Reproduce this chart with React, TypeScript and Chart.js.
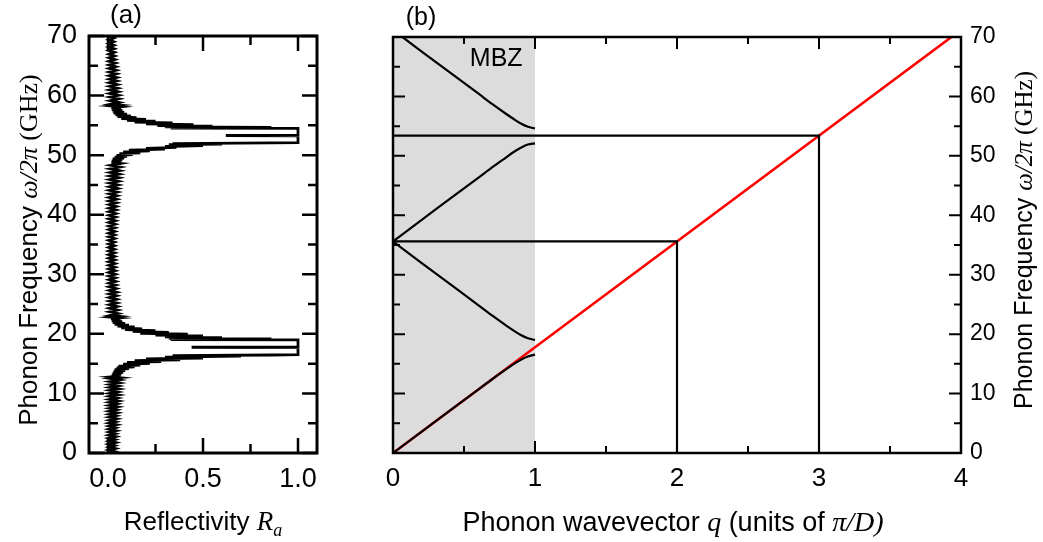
import React, { useEffect, useRef } from "react";
import { Chart, registerables } from "chart.js";
Chart.register(...registerables);

const SANS = "'Liberation Sans', Arial, Helvetica, sans-serif";
const SERIF = "'Liberation Serif', 'Times New Roman', serif";

// ---------------- Panel (a): reflectivity spectrum [frequency GHz, reflectivity]
const reflPoints: [number, number][] = [
  [0, 0.008], [0.25, 0.035], [0.5, 0.006], [0.75, 0.038], [1, 0.008], [1.25, 0.034], [1.5, 0.006], [1.75, 0.04],
  [2, 0.008], [2.25, 0.036], [2.5, 0.007], [2.75, 0.04], [3, 0.006], [3.25, 0.037], [3.5, 0.008], [3.75, 0.042],
  [4, 0.007], [4.25, 0.038], [4.5, 0.008], [4.75, 0.044], [5, 0.007], [5.25, 0.04], [5.5, 0.009], [5.75, 0.045],
  [6, 0.008], [6.25, 0.042], [6.5, 0.009], [6.75, 0.047], [7, 0.008], [7.25, 0.044], [7.5, 0.01], [7.75, 0.05],
  [8, 0.009], [8.25, 0.046], [8.5, 0.01], [8.75, 0.052], [9, 0.01], [9.25, 0.048], [9.5, 0.011], [9.75, 0.054],
  [10, 0.01], [10.25, 0.05], [10.5, 0.012], [10.75, 0.056], [11, 0.012], [11.25, 0.052], [11.5, 0.013], [11.75, 0.058],
  [12, 0.014], [12.25, 0.06], [12.5, 0.016],
  [12.65, 0.062], [12.8, 0.018], [12.95, 0.066], [13.1, 0.02], [13.25, 0.07], [13.4, 0.025], [13.55, 0.08],
  [13.7, 0.03], [13.85, 0.09], [14.0, 0.035], [14.15, 0.11], [14.3, 0.045], [14.45, 0.14], [14.6, 0.055],
  [14.75, 0.17], [14.9, 0.08], [15.05, 0.22], [15.2, 0.1], [15.35, 0.28], [15.5, 0.14], [15.65, 0.38],
  [15.8, 0.2], [15.95, 0.5], [16.1, 0.3], [16.25, 0.7], [16.35, 0.34], [16.45, 0.86], [16.5, 1.0],
  [17.7, 1.0], [17.75, 0.44], [17.8, 1.0], [19.0, 1.0],
  [19.05, 0.33], [19.15, 0.86], [19.25, 0.32], [19.35, 0.6], [19.5, 0.3], [19.65, 0.5], [19.8, 0.25],
  [19.95, 0.42], [20.1, 0.17], [20.25, 0.32], [20.4, 0.13], [20.55, 0.25], [20.7, 0.09], [20.85, 0.18],
  [21.0, 0.07], [21.15, 0.14], [21.3, 0.05], [21.45, 0.11], [21.6, 0.035], [21.75, 0.09], [21.9, 0.025],
  [22.05, 0.075], [22.2, 0.02], [22.35, 0.066], [22.5, 0.016], [22.65, 0.06], [22.8, 0.014], [22.95, 0.056],
  [23.1, 0.012],
  [23.4, 0.052], [23.7, 0.01], [24.0, 0.05], [24.3, 0.01], [24.6, 0.048], [24.9, 0.009], [25.2, 0.046],
  [25.5, 0.009], [25.8, 0.045], [26.1, 0.008], [26.4, 0.044], [26.7, 0.008], [27.0, 0.045], [27.3, 0.008],
  [27.6, 0.042], [27.9, 0.007], [28.2, 0.04], [28.5, 0.007], [28.8, 0.04], [29.1, 0.007], [29.4, 0.038],
  [29.7, 0.006], [30.0, 0.038], [30.3, 0.006], [30.6, 0.037], [30.9, 0.006], [31.2, 0.036], [31.5, 0.006],
  [31.8, 0.036], [32.1, 0.005], [32.4, 0.035], [32.7, 0.005], [33.0, 0.034], [33.3, 0.005], [33.6, 0.034],
  [33.9, 0.005], [34.2, 0.033], [34.5, 0.005], [34.8, 0.033], [35.1, 0.005], [35.4, 0.033], [35.7, 0.005],
  [36.0, 0.034], [36.3, 0.005], [36.6, 0.034], [36.9, 0.005], [37.2, 0.035], [37.5, 0.006], [37.8, 0.036],
  [38.1, 0.006], [38.4, 0.037], [38.7, 0.006], [39.0, 0.038], [39.3, 0.006], [39.6, 0.039], [39.9, 0.007],
  [40.2, 0.04], [40.5, 0.007], [40.8, 0.041], [41.1, 0.007], [41.4, 0.042], [41.7, 0.008], [42.0, 0.044],
  [42.3, 0.008], [42.6, 0.045], [42.9, 0.008], [43.2, 0.046], [43.5, 0.009], [43.8, 0.048], [44.1, 0.009],
  [44.4, 0.05], [44.7, 0.01], [45.0, 0.052], [45.3, 0.01], [45.6, 0.054], [45.9, 0.011], [46.2, 0.056],
  [46.5, 0.012], [46.8, 0.058], [47.1, 0.013], [47.4, 0.06], [47.7, 0.014], [48.0, 0.063], [48.3, 0.016],
  [48.6, 0.066],
  [48.75, 0.018], [48.9, 0.07], [49.05, 0.02], [49.2, 0.075], [49.35, 0.025], [49.5, 0.085], [49.65, 0.035],
  [49.8, 0.1], [49.95, 0.045], [50.1, 0.13], [50.25, 0.06], [50.4, 0.17], [50.55, 0.08], [50.7, 0.22],
  [50.85, 0.11], [51.0, 0.3], [51.15, 0.2], [51.3, 0.36], [51.45, 0.3], [51.6, 0.5], [51.75, 0.32],
  [51.85, 0.6], [51.95, 0.34], [52.05, 0.86], [52.1, 1.0],
  [53.25, 1.0], [53.3, 0.62], [53.35, 1.0], [54.5, 1.0],
  [54.55, 0.33], [54.65, 0.86], [54.75, 0.3], [54.85, 0.55], [54.95, 0.26], [55.1, 0.45], [55.25, 0.2],
  [55.4, 0.34], [55.55, 0.14], [55.7, 0.25], [55.85, 0.1], [56.0, 0.2], [56.15, 0.07], [56.3, 0.15],
  [56.45, 0.05], [56.6, 0.12], [56.75, 0.04], [56.9, 0.1], [57.05, 0.03], [57.2, 0.085], [57.35, 0.025],
  [57.5, 0.075], [57.65, 0.02], [57.8, 0.068], [57.95, 0.018], [58.1, 0.063], [58.25, 0.016], [58.4, 0.06],
  [58.55, 0.014],
  [58.85, 0.058], [59.15, 0.013], [59.45, 0.056], [59.75, 0.012], [60.05, 0.054], [60.35, 0.011], [60.65, 0.052],
  [60.95, 0.01], [61.25, 0.05], [61.55, 0.01], [61.85, 0.048], [62.15, 0.009], [62.45, 0.046], [62.75, 0.009],
  [63.05, 0.045], [63.35, 0.008], [63.65, 0.044], [63.95, 0.008], [64.25, 0.042], [64.55, 0.007], [64.85, 0.04],
  [65.15, 0.007], [65.45, 0.038], [65.75, 0.006], [66.05, 0.036], [66.35, 0.006], [66.65, 0.034], [66.95, 0.006],
  [67.25, 0.033], [67.55, 0.005], [67.85, 0.032], [68.15, 0.005], [68.45, 0.031], [68.75, 0.005], [69.05, 0.03],
  [69.35, 0.005], [69.65, 0.03], [69.95, 0.005], [70.0, 0.01],
];

const aXMajor = [0, 0.5, 1.0];
const aXMinor = [0.25, 0.75];
const freqMajor = [0, 10, 20, 30, 40, 50, 60, 70];
const freqMinor = [5, 15, 25, 35, 45, 55, 65];

// ---------------- Panel (b): folded dispersion
const qGrid = [0, 0.2, 0.4, 0.6, 0.7, 0.8, 0.85, 0.9, 0.95, 1.0];
const branch1 = [0, 3.56, 7.12, 10.68, 12.45, 14.15, 14.95, 15.7, 16.25, 16.55];
const branch2 = [35.6, 32.0, 28.45, 24.9, 23.1, 21.4, 20.6, 19.85, 19.3, 19.0];
const branch3 = [35.6, 39.2, 42.75, 46.3, 48.1, 49.8, 50.65, 51.35, 51.9, 52.1];
const branch4 = [71.2, 67.6, 64.05, 60.5, 58.7, 57.0, 56.2, 55.45, 54.9, 54.6];
const bulkQ = [0, 4];
const bulkF = [0, 71.2];
const gap1Q = [0, 2, 2];
const gap1F = [35.6, 35.6, 0];
const gap2Q = [0, 3, 3];
const gap2F = [53.4, 53.4, 0];
const bXMajor = [0, 1, 2, 3, 4];
const bXMinor = [0.5, 1.5, 2.5, 3.5];
const mbzRange = [0, 1];

type Seg = { text: string; font: string; dy?: number };

function drawRich(ctx: CanvasRenderingContext2D, segs: Seg[], cx: number, cy: number, rotate: boolean) {
  ctx.save();
  ctx.translate(cx, cy);
  if (rotate) ctx.rotate(-Math.PI / 2);
  ctx.fillStyle = "#000";
  ctx.textBaseline = "alphabetic";
  ctx.textAlign = "left";
  let total = 0;
  const widths = segs.map((s) => {
    ctx.font = s.font;
    const w = ctx.measureText(s.text).width;
    total += w;
    return w;
  });
  let x = -total / 2;
  segs.forEach((s, i) => {
    ctx.font = s.font;
    ctx.fillText(s.text, x, s.dy || 0);
    x += widths[i];
  });
  ctx.restore();
}

function drawFrame(chart: any, o: any) {
  const { ctx, chartArea: a } = chart;
  const xs = chart.scales.x;
  const ys = chart.scales.y;
  ctx.save();
  ctx.strokeStyle = "#000";
  ctx.lineWidth = o.tickWidth;
  ctx.beginPath();
  const xt = (vals: number[], len: number) => {
    for (const v of vals) {
      const p = xs.getPixelForValue(v);
      ctx.moveTo(p, a.bottom);
      ctx.lineTo(p, a.bottom - len);
      ctx.moveTo(p, a.top);
      ctx.lineTo(p, a.top + len);
    }
  };
  const yt = (vals: number[], len: number) => {
    for (const v of vals) {
      const p = ys.getPixelForValue(v);
      ctx.moveTo(a.left, p);
      ctx.lineTo(a.left + len, p);
      ctx.moveTo(a.right, p);
      ctx.lineTo(a.right - len, p);
    }
  };
  xt(o.xMajor, o.major);
  xt(o.xMinor, o.minor);
  yt(freqMajor, o.major);
  yt(freqMinor, o.minor);
  ctx.stroke();
  ctx.lineWidth = o.frameWidth;
  ctx.strokeRect(a.left, a.top, a.right - a.left, a.bottom - a.top);
  ctx.restore();
}

const pts = (xs: number[], ys: number[]) => xs.map((x, i) => ({ x, y: ys[i] }));

export default function App() {
  const refA = useRef<HTMLCanvasElement>(null);
  const refB = useRef<HTMLCanvasElement>(null);

  useEffect(() => {
    const tickFontA = { size: 27, family: SANS };
    const chartA = new Chart(refA.current!, {
      type: "scatter",
      data: {
        datasets: [
          {
            data: reflPoints.map(([f, r]) => ({ x: r, y: f })),
            showLine: true,
            borderColor: "#000",
            borderWidth: 2.8,
            pointRadius: 0,
            fill: false,
          },
        ],
      },
      options: {
        responsive: false,
        animation: false,
        devicePixelRatio: 1,
        events: [],
        layout: { padding: { left: 0, top: 36, right: 43, bottom: 0 } },
        plugins: { legend: { display: false }, tooltip: { enabled: false } },
        scales: {
          x: {
            type: "linear",
            min: -0.1,
            max: 1.1,
            afterBuildTicks: (s: any) => {
              s.ticks = aXMajor.map((v) => ({ value: v }));
            },
            afterFit: (s: any) => {
              s.height = 89;
            },
            ticks: {
              callback: (v: any) => Number(v).toFixed(1),
              font: tickFontA,
              color: "#000",
              padding: 10,
              maxRotation: 0,
              autoSkip: false,
            },
            grid: { display: false, drawTicks: false },
            border: { display: false },
          },
          y: {
            type: "linear",
            min: 0,
            max: 70,
            afterBuildTicks: (s: any) => {
              s.ticks = freqMajor.map((v) => ({ value: v }));
            },
            afterFit: (s: any) => {
              s.width = 89;
            },
            ticks: { font: tickFontA, color: "#000", padding: 12, autoSkip: false },
            grid: { display: false, drawTicks: false },
            border: { display: false },
          },
        },
      },
      plugins: [
        {
          id: "decorA",
          afterDraw(chart: any) {
            const ctx = chart.ctx as CanvasRenderingContext2D;
            drawFrame(chart, { xMajor: aXMajor, xMinor: aXMinor, major: 15, minor: 9, tickWidth: 2.5, frameWidth: 3 });
            drawRich(
              ctx,
              [
                { text: "Phonon Frequency ", font: `26px ${SANS}` },
                { text: "ω/2π", font: `italic 26px ${SERIF}` },
                { text: " (GHz)", font: `26px ${SERIF}` },
              ],
              37,
              250,
              true
            );
            drawRich(
              ctx,
              [
                { text: "Reflectivity ", font: `26px ${SANS}` },
                { text: "R", font: `italic 27px ${SERIF}` },
                { text: "a", font: `italic 18px ${SERIF}`, dy: 6 },
              ],
              203,
              530,
              false
            );
            ctx.save();
            ctx.font = `26px ${SANS}`;
            ctx.fillStyle = "#000";
            ctx.textAlign = "center";
            ctx.textBaseline = "middle";
            ctx.fillText("(a)", 126, 16);
            ctx.restore();
          },
        },
      ],
    } as any);

    const tickFontB = { size: 26, family: SANS };
    const line = (data: any, color: string, width: number, smooth: boolean) => ({
      data,
      showLine: true,
      borderColor: color,
      borderWidth: width,
      pointRadius: 0,
      fill: false,
      cubicInterpolationMode: smooth ? "monotone" : "default",
    });
    const chartB = new Chart(refB.current!, {
      type: "scatter",
      data: {
        datasets: [
          line(pts(qGrid, branch1), "#000", 2.2, true),
          line(pts(qGrid, branch2), "#000", 2.2, true),
          line(pts(qGrid, branch3), "#000", 2.2, true),
          line(pts(qGrid, branch4), "#000", 2.2, true),
          line(pts(gap1Q, gap1F), "#000", 2.2, false),
          line(pts(gap2Q, gap2F), "#000", 2.2, false),
          line(pts(bulkQ, bulkF), "#ff0000", 2.6, false),
        ],
      },
      options: {
        responsive: false,
        animation: false,
        devicePixelRatio: 1,
        events: [],
        layout: { padding: { left: 33, top: 37, right: 0, bottom: 0 } },
        plugins: { legend: { display: false }, tooltip: { enabled: false } },
        scales: {
          x: {
            type: "linear",
            min: 0,
            max: 4,
            afterBuildTicks: (s: any) => {
              s.ticks = bXMajor.map((v) => ({ value: v }));
            },
            afterFit: (s: any) => {
              s.height = 89;
            },
            ticks: { font: tickFontB, color: "#000", padding: 10, maxRotation: 0, autoSkip: false },
            grid: { display: false, drawTicks: false },
            border: { display: false },
          },
          y: {
            type: "linear",
            position: "right",
            min: 0,
            max: 70,
            afterBuildTicks: (s: any) => {
              s.ticks = freqMajor.map((v) => ({ value: v }));
            },
            afterFit: (s: any) => {
              s.width = 82;
            },
            ticks: { font: { size: 23, family: SANS }, color: "#000", padding: 9, autoSkip: false },
            grid: { display: false, drawTicks: false },
            border: { display: false },
          },
        },
      },
      plugins: [
        {
          id: "decorB",
          beforeDatasetsDraw(chart: any) {
            const { ctx, scales } = chart;
            const x0 = scales.x.getPixelForValue(mbzRange[0]);
            const x1 = scales.x.getPixelForValue(mbzRange[1]);
            const y0 = scales.y.getPixelForValue(70);
            const y1 = scales.y.getPixelForValue(0);
            ctx.save();
            ctx.fillStyle = "#dcdcdc";
            ctx.fillRect(x0, y0, x1 - x0, y1 - y0);
            ctx.font = `25px ${SANS}`;
            ctx.fillStyle = "#000";
            ctx.textAlign = "center";
            ctx.textBaseline = "middle";
            ctx.fillText("MBZ", scales.x.getPixelForValue(0.727), scales.y.getPixelForValue(66.3));
            ctx.restore();
          },
          afterDraw(chart: any) {
            const ctx = chart.ctx as CanvasRenderingContext2D;
            drawFrame(chart, { xMajor: bXMajor, xMinor: bXMinor, major: 12, minor: 7, tickWidth: 2, frameWidth: 2.5 });
            drawRich(
              ctx,
              [
                { text: "Phonon Frequency ", font: `25px ${SANS}` },
                { text: "ω/2π", font: `italic 25px ${SERIF}` },
                { text: " (GHz)", font: `25px ${SERIF}` },
              ],
              672,
              240,
              true
            );
            drawRich(
              ctx,
              [
                { text: "Phonon wavevector ", font: `27px ${SANS}` },
                { text: "q", font: `italic 28px ${SERIF}` },
                { text: " (units of ", font: `27px ${SANS}` },
                { text: "π/D)", font: `italic 28px ${SERIF}` },
              ],
              313,
              531,
              false
            );
            ctx.save();
            ctx.font = `25px ${SANS}`;
            ctx.fillStyle = "#000";
            ctx.textAlign = "center";
            ctx.textBaseline = "middle";
            ctx.fillText("(b)", 61, 18);
            ctx.restore();
          },
        },
      ],
    } as any);

    return () => {
      chartA.destroy();
      chartB.destroy();
    };
  }, []);

  return (
    <div style={{ position: "fixed", left: 0, top: 0, width: 1043, height: 542, background: "#fff" }}>
      <canvas ref={refA} width={360} height={542} style={{ position: "absolute", left: 0, top: 0 }} />
      <canvas ref={refB} width={683} height={542} style={{ position: "absolute", left: 360, top: 0 }} />
    </div>
  );
}
